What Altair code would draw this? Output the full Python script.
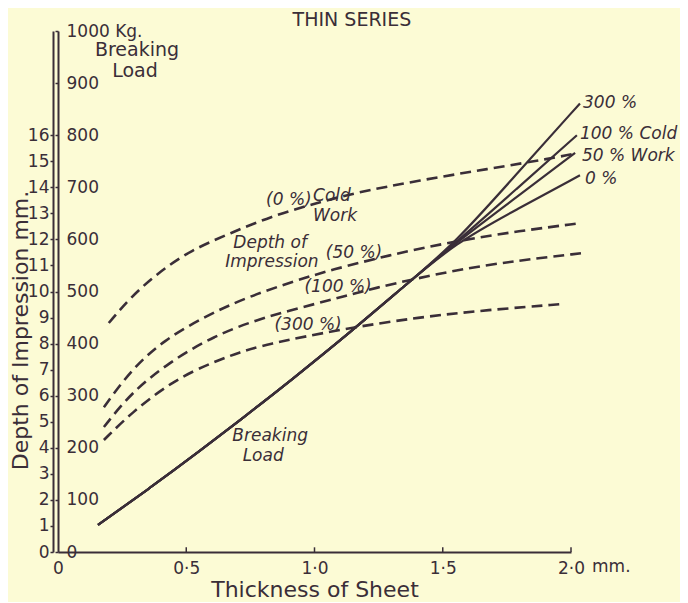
import altair as alt
import pandas as pd

INK = "#3a2e38"
BG = "#fcfbd5"
FONT = "DejaVu Sans"

# ---- Depth of impression (mm) against thickness of sheet (mm): dashed curves
thick_0 = [0.198, 0.284, 0.389, 0.518, 0.673, 0.829, 0.996, 1.152, 1.412, 1.673, 1.930, 2.023]
depth_0 = [8.79, 9.79, 10.71, 11.59, 12.24, 12.88, 13.36, 13.78, 14.27, 14.70, 15.12, 15.31]
thick_50 = [0.179, 0.284, 0.412, 0.584, 0.739, 0.934, 1.062, 1.284, 1.541, 1.802, 2.035]
depth_50 = [5.56, 6.98, 8.14, 9.10, 9.79, 10.44, 10.82, 11.38, 11.92, 12.33, 12.62]
thick_100 = [0.179, 0.284, 0.428, 0.607, 0.802, 1.062, 1.218, 1.541, 1.802, 2.043]
depth_100 = [4.80, 6.10, 7.25, 8.30, 9.02, 9.67, 10.10, 10.82, 11.20, 11.47]
thick_300 = [0.179, 0.284, 0.451, 0.607, 0.712, 0.802, 1.101, 1.412, 1.673, 1.969]
depth_300 = [4.30, 5.33, 6.60, 7.30, 7.68, 7.95, 8.55, 9.02, 9.29, 9.52]

# ---- Breaking load (kg): shared lower part, then four branches
common_thick = [0.156, 0.362, 0.556, 0.712, 0.907, 1.140, 1.354, 1.549]
common_load = [52, 124, 195, 254, 329, 422, 512, 593]
branch_thick = {"300": [1.794, 2.035], "100": [1.786, 2.023], "50": [1.782, 2.016], "0": [1.790, 2.035]}
branch_load = {"300": [729, 861], "100": [696, 800], "50": [679, 766], "0": [658, 723]}

# ---- axis values
x_ticks = [0, 0.5, 1.0, 1.5, 2.0]
depth_ticks = list(range(0, 17))
load_ticks = list(range(0, 1001, 100))

# ---- annotations (x in mm thickness, y in mm depth)
ital_center_text = ["(0 %)", "Cold", "Work", "Depth of", "Impression", "(50 %)", "(100 %)", "(300 %)", "Breaking", "Load"]
ital_center_x = [0.900, 1.068, 1.080, 0.827, 0.834, 1.154, 1.092, 0.975, 0.827, 0.800]
ital_center_y = [13.50, 13.66, 12.89, 11.86, 11.13, 11.47, 10.17, 8.71, 4.45, 3.68]

ital_left_text = ["300 %", "100 % Cold", "50 % Work", "0 %"]
ital_left_x = [2.047, 2.035, 2.043, 2.055]
ital_left_y = [17.23, 16.04, 15.20, 14.31]

upright_text = ["Breaking", "Load"]
upright_x = [0.308, 0.300]
upright_y = [19.26, 18.46]

title_text = ["THIN SERIES"]
title_x = [1.146]
title_y = [20.20]

unit_text = ["mm."]
unit_x = [2.082]
unit_y = [-0.58]

# ---- build tables
rows = []
for name, xs, ys in [("0", thick_0, depth_0), ("50", thick_50, depth_50),
                     ("100", thick_100, depth_100), ("300", thick_300, depth_300)]:
    for i, (a, b) in enumerate(zip(xs, ys)):
        rows.append({"series": name, "thick": a, "depth": b, "order": i})
df_depth = pd.DataFrame(rows)

rows = []
for name in ["0", "50", "100", "300"]:
    xs = common_thick + branch_thick[name]
    ys = common_load + branch_load[name]
    for i, (a, b) in enumerate(zip(xs, ys)):
        rows.append({"series": name, "thick": a, "load": b, "order": i})
df_load = pd.DataFrame(rows)

df_ital_c = pd.DataFrame({"t": ital_center_text, "thick": ital_center_x, "depth": ital_center_y})
df_ital_l = pd.DataFrame({"t": ital_left_text, "thick": ital_left_x, "depth": ital_left_y})
df_up = pd.DataFrame({"t": upright_text, "thick": upright_x, "depth": upright_y})
df_title = pd.DataFrame({"t": title_text, "thick": title_x, "depth": title_y})
df_unit = pd.DataFrame({"t": unit_text, "thick": unit_x, "depth": unit_y})
df_xt = pd.DataFrame({"thick": x_ticks[1:], "depth": [0] * 4, "depth2": [0.18] * 4})

x_axis = alt.Axis(
    values=x_ticks,
    labelExpr="datum.value == 0 ? '0' : replace(format(datum.value, '.1f'), '.', '·')",
    title="Thickness of Sheet", titleFont=FONT, titleFontSize=22, titleFontWeight="normal",
    titleColor=INK, titlePadding=3,
    labelFont=FONT, labelFontSize=17, labelColor=INK, labelPadding=8,
    labelFlush=False, labelOverlap=False, labelBound=False,
    ticks=False, domainColor=INK, domainWidth=2, grid=False,
)
x_enc = alt.X("thick:Q", scale=alt.Scale(domain=[0, 2.0], nice=False, zero=False), axis=x_axis)

depth_axis = alt.Axis(
    orient="left", offset=5, values=depth_ticks,
    title="Depth of Impression mm.", titleFont=FONT, titleFontSize=22, titleFontWeight="normal",
    titleColor=INK, titleAngle=270, titleX=-26, titleY=299, titleBaseline="alphabetic", titleAlign="center",
    labelFont=FONT, labelFontSize=17, labelColor=INK, labelPadding=1,
    labelFlush=False, labelOverlap=False,
    tickSize=3, tickColor=INK, tickWidth=1.5, domainColor=INK, domainWidth=2, grid=False,
)
y_depth = alt.Y("depth:Q", scale=alt.Scale(domain=[0, 20], nice=False, zero=True), axis=depth_axis)

load_axis = alt.Axis(
    orient="left", offset=0, values=load_ticks,
    labelExpr="datum.value == 1000 ? '1000 Kg.' : datum.label",
    title=None, labelFont=FONT, labelFontSize=17, labelColor=INK,
    labelAlign="left", labelPadding=-11, labelFlush=False, labelOverlap=False,
    tickSize=3, tickColor=INK, tickWidth=1.5, domainColor=INK, domainWidth=2, grid=False,
)
y_load = alt.Y("load:Q", scale=alt.Scale(domain=[0, 1000], nice=False), axis=load_axis)

dashed = alt.Chart(df_depth).mark_line(
    color=INK, strokeWidth=2.6, strokeDash=[11, 6], interpolate="basis", strokeCap="butt"
).encode(x=x_enc, y=y_depth, detail="series:N", order="order:Q")

xticks = alt.Chart(df_xt).mark_rule(color=INK, strokeWidth=1.5).encode(
    x=x_enc, y=y_depth, y2="depth2:Q")

ital_c = alt.Chart(df_ital_c).mark_text(
    font=FONT, fontSize=17, fontStyle="italic", color=INK, align="center", baseline="middle"
).encode(x=x_enc, y=y_depth, text="t:N")

ital_l = alt.Chart(df_ital_l).mark_text(
    font=FONT, fontSize=17, fontStyle="italic", color=INK, align="left", baseline="middle"
).encode(x=x_enc, y=y_depth, text="t:N")

up = alt.Chart(df_up).mark_text(
    font=FONT, fontSize=19, color=INK, align="center", baseline="middle"
).encode(x=x_enc, y=y_depth, text="t:N")

ttl = alt.Chart(df_title).mark_text(
    font=FONT, fontSize=19, color=INK, align="center", baseline="alphabetic"
).encode(x=x_enc, y=y_depth, text="t:N")

unit = alt.Chart(df_unit).mark_text(
    font=FONT, fontSize=17, color=INK, align="left", baseline="middle"
).encode(x=x_enc, y=y_depth, text="t:N")

depth_group = alt.layer(dashed, xticks, ital_c, ital_l, up, ttl, unit)

solid = alt.Chart(df_load).mark_line(
    color=INK, strokeWidth=2.2, interpolate="basis"
).encode(x=x_enc, y=y_load, detail="series:N", order="order:Q")

chart = alt.layer(depth_group, solid).resolve_scale(y="independent").properties(
    width=513, height=521,
    autosize=alt.AutoSizeParams(type="none"),
    padding={"left": 50, "top": 23, "right": 109, "bottom": 50},
    background=BG,
).configure_view(stroke=None)

chart.save("out.html", embed_options={"renderer": "svg", "actions": False})
